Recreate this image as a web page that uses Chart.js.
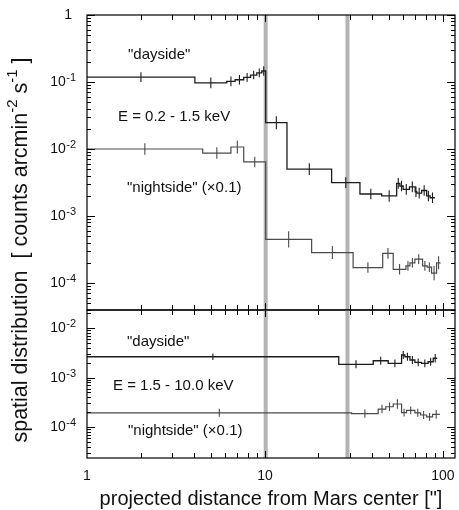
<!DOCTYPE html>
<html>
<head>
<meta charset="utf-8">
<script src="https://cdn.jsdelivr.net/npm/chart.js@4.4.1/dist/chart.umd.min.js"></script>
<style>
    html, body { margin: 0; padding: 0; background: #fff; }
    #wrap { position: relative; width: 459px; height: 510px; }
    #wrap canvas { position: absolute; left: 0; top: 0; }
</style>
</head>
<body>
<div id="wrap">
    <canvas id="softChart" width="459" height="510"></canvas>
    <canvas id="hardChart" width="459" height="510"></canvas>
</div>
<script>
// Mars X-ray spatial distribution - two energy bands, dayside / nightside

// Bin edges ["] and values [counts arcmin^-2 s^-1]
// E = 0.2 - 1.5 keV
const softDayEdges = [1, 4.04, 6.1, 6.8, 7.6, 8.3, 9.0, 9.6, 10.1, 13.3, 23.7, 34.2, 45.3,
    55.0, 57.3, 59.8, 64.9, 69.9, 71.3, 76.0, 81.1, 84.8, 90.2];
const softDayValues = [0.118, 0.097, 0.102, 0.108, 0.117, 0.127, 0.137, 0.146, 0.0247, 0.0050,
    0.00315, 0.00213, 0.00199, 0.00307, 0.0028, 0.0025, 0.00272, 0.0023, 0.00219, 0.0024,
    0.00199, 0.00187];
const softDayErrors = [0.18, 0.2, 0.18, 0.18, 0.16, 0.16, 0.16, 0.18, 0.25, 0.22, 0.2, 0.2,
    0.22, 0.2, 0.2, 0.2, 0.2, 0.2, 0.2, 0.2, 0.2, 0.2];

const softNightEdges = [1, 4.47, 6.44, 7.6, 10.1, 18.3, 31.3, 45.9, 52.6, 62.0, 65.3, 69.6,
    76.9, 81.6, 86.4, 92.2, 97.1];
const softNightValues = [0.0100, 0.0087, 0.0107, 0.0064, 4.47e-4, 2.84e-4, 1.70e-4, 2.77e-4,
    1.60e-4, 1.8e-4, 2.0e-4, 2.27e-4, 1.8e-4, 1.72e-4, 1.40e-4, 2.0e-4];
const softNightErrors = [0.22, 0.22, 0.25, 0.2, 0.32, 0.25, 0.2, 0.2, 0.2, 0.18, 0.18, 0.18,
    0.18, 0.18, 0.28, 0.25];

// E = 1.5 - 10.0 keV
const hardDayEdges = [1, 26.0, 40.6, 49.3, 58.6, 61.2, 65.3, 69.6, 75.9, 82.6, 88.3, 92.9];
const hardDayValues = [2.63e-3, 1.85e-3, 2.18e-3, 1.93e-3, 2.85e-3, 2.63e-3, 2.26e-3, 2.03e-3,
    1.93e-3, 2.08e-3, 2.45e-3];
const hardDayErrors = [0.16, 0.2, 0.2, 0.2, 0.2, 0.2, 0.2, 0.2, 0.2, 0.2, 0.22];

const hardNightEdges = [1, 30.7, 43.3, 47.8, 52.6, 58.6, 62.5, 69.6, 75.0, 81.0, 87.5, 96.2];
const hardNightValues = [1.94e-4, 1.87e-4, 2.31e-4, 2.57e-4, 2.92e-4, 1.95e-4, 2.17e-4,
    1.94e-4, 1.75e-4, 1.61e-4, 1.8e-4];
const hardNightErrors = [0.2, 0.22, 0.22, 0.22, 0.25, 0.2, 0.2, 0.2, 0.2, 0.2, 0.22];

// Gray marker lines ["]
const boundaryLines = [10.1, 29.1];

// Axis limits
const xRange = [1, 117];
const softRange = [3.95e-5, 1];
const hardRange = [2.37e-5, 0.0231];
const xTickValues = [1, 10, 100];
const xTickLabels = ['1', '10', '100'];

const FONT = '"Liberation Sans", Arial, Helvetica, sans-serif';
const dayColor = '#1c1c1c';
const nightColor = '#4a4a4a';

// Turn bins into a stepped outline
function stepPoints(edges, values) {
    const pts = [];
    values.forEach((v, i) => {
        pts.push({ x: edges[i], y: v });
        pts.push({ x: edges[i + 1], y: v });
    });
    return pts;
}

// Vertical error bar at each bin centre (broken with nulls)
function errorPoints(edges, values, errors) {
    const pts = [];
    values.forEach((v, i) => {
        const xc = Math.sqrt(edges[i] * edges[i + 1]);
        pts.push({ x: xc, y: v / (1 + errors[i]) });
        pts.push({ x: xc, y: v * (1 + errors[i]) });
        pts.push({ x: xc, y: null });
    });
    return pts;
}

function lineSet(data, color, width) {
    return {
        data: data,
        borderColor: color,
        borderWidth: width,
        pointRadius: 0,
        fill: false,
        tension: 0,
        spanGaps: false
    };
}

// Draws "10" with a raised exponent, right aligned at xRight
function drawPower(ctx, exp, xRight, y) {
    ctx.font = '11px ' + FONT;
    const ew = ctx.measureText(exp).width;
    ctx.textAlign = 'left';
    ctx.textBaseline = 'middle';
    ctx.fillText(exp, xRight - ew, y - 5);
    ctx.font = '14px ' + FONT;
    ctx.textAlign = 'right';
    ctx.fillText('10', xRight - ew - 0.5, y);
}

function seg(ctx, x1, y1, x2, y2) {
    ctx.beginPath();
    ctx.moveTo(x1, y1);
    ctx.lineTo(x2, y2);
    ctx.stroke();
}

const panelAxes = {
    id: 'panelAxes',
    beforeDatasetsDraw(chart) {
        const { ctx, chartArea, scales } = chart;
        ctx.save();
        ctx.strokeStyle = '#b3b3b3';
        ctx.lineWidth = 4;
        boundaryLines.forEach(v => {
            const x = scales.x.getPixelForValue(v);
            seg(ctx, x, chartArea.top, x, chartArea.bottom);
        });
        ctx.restore();
    },
    afterDraw(chart, args, opts) {
        const { ctx, chartArea, scales } = chart;
        const { left, right, top, bottom } = chartArea;
        ctx.save();
        ctx.strokeStyle = '#000';
        ctx.fillStyle = '#111';
        ctx.lineWidth = 1.2;
        ctx.strokeRect(left, top, right - left, bottom - top);

        // x ticks on top and bottom edges
        ctx.lineWidth = 1;
        for (let k = 0; k <= 2; k++) {
            for (let m = 1; m <= 9; m++) {
                const v = m * Math.pow(10, k);
                if (v <= xRange[0] || v > xRange[1]) continue;
                const x = Math.round(scales.x.getPixelForValue(v)) + 0.5;
                const len = m === 1 ? 7 : 5;
                seg(ctx, x, bottom, x, bottom - len);
                seg(ctx, x, top, x, top + len);
            }
        }

        // y ticks on left and right edges
        const ys = scales.y;
        const lo = Math.floor(Math.log10(ys.min));
        const hi = Math.ceil(Math.log10(ys.max));
        for (let k = lo; k <= hi; k++) {
            for (let m = 1; m <= 9; m++) {
                const v = m * Math.pow(10, k);
                if (v < ys.min * 0.999 || v > ys.max * 1.001) continue;
                const y = Math.round(ys.getPixelForValue(v)) + 0.5;
                const len = m === 1 ? 8 : 4;
                seg(ctx, left, y, left + len, y);
                seg(ctx, right, y, right - len, y);
                if (m === 1) {
                    if (k === 0) {
                        ctx.font = '14px ' + FONT;
                        ctx.textAlign = 'right';
                        ctx.textBaseline = 'middle';
                        ctx.fillText('1', 72, y);
                    } else {
                        drawPower(ctx, String(k), 76, y);
                    }
                }
            }
        }

        // in-panel labels
        ctx.font = '15px ' + FONT;
        ctx.textAlign = 'left';
        ctx.textBaseline = 'middle';
        (opts.notes || []).forEach(n => ctx.fillText(n.text, n.x, n.y));

        if (opts.bottomAxis) {
            ctx.font = '14px ' + FONT;
            ctx.textAlign = 'center';
            xTickValues.forEach((v, i) => {
                ctx.fillText(xTickLabels[i], scales.x.getPixelForValue(v), 476);
            });
            ctx.font = '20px ' + FONT;
            ctx.fillText('projected distance from Mars center ["]', 271, 499);

            // y title spanning both panels
            ctx.translate(21, 250);
            ctx.rotate(-Math.PI / 2);
            const parts = [
                ['spatial distribution  [ counts arcmin', 21.5, 0],
                ['-2', 15, -8],
                [' s', 21.5, 0],
                ['-1', 15, -8],
                [' ]', 21.5, 0]
            ];
            let total = 0;
            parts.forEach(p => { ctx.font = p[1] + 'px ' + FONT; total += ctx.measureText(p[0]).width; });
            let cx = -total / 2;
            ctx.textAlign = 'left';
            parts.forEach(p => {
                ctx.font = p[1] + 'px ' + FONT;
                ctx.fillText(p[0], cx, p[2]);
                cx += ctx.measureText(p[0]).width;
            });
        }
        ctx.restore();
    }
};

function makePanel(canvasId, yRange, padTop, padBottom, day, night, panelOpts) {
    const ctx = document.getElementById(canvasId).getContext('2d');
    return new Chart(ctx, {
        type: 'line',
        data: {
            datasets: [
                lineSet(stepPoints(day.edges, day.values), dayColor, 1.3),
                lineSet(errorPoints(day.edges, day.values, day.errors), dayColor, 1.1),
                lineSet(stepPoints(night.edges, night.values), nightColor, 1.2),
                lineSet(errorPoints(night.edges, night.values, night.errors), nightColor, 1.1)
            ]
        },
        options: {
            responsive: false,
            animation: false,
            devicePixelRatio: 1,
            layout: { padding: { left: 87, right: 4, top: padTop, bottom: padBottom } },
            scales: {
                x: { type: 'logarithmic', min: xRange[0], max: xRange[1], display: false },
                y: { type: 'logarithmic', min: yRange[0], max: yRange[1], display: false }
            },
            plugins: {
                legend: { display: false },
                tooltip: { enabled: false },
                panelAxes: panelOpts
            }
        },
        plugins: [panelAxes]
    });
}

makePanel('softChart', softRange, 15, 200,
    { edges: softDayEdges, values: softDayValues, errors: softDayErrors },
    { edges: softNightEdges, values: softNightValues, errors: softNightErrors },
    {
        bottomAxis: false,
        notes: [
            { text: '"dayside"', x: 128, y: 55 },
            { text: 'E = 0.2 - 1.5 keV', x: 118, y: 117 },
            { text: '"nightside" (×0.1)', x: 127, y: 188 }
        ]
    });

makePanel('hardChart', hardRange, 310, 52,
    { edges: hardDayEdges, values: hardDayValues, errors: hardDayErrors },
    { edges: hardNightEdges, values: hardNightValues, errors: hardNightErrors },
    {
        bottomAxis: true,
        notes: [
            { text: '"dayside"', x: 127, y: 342 },
            { text: 'E = 1.5 - 10.0 keV', x: 113, y: 386 },
            { text: '"nightside" (×0.1)', x: 128, y: 431 }
        ]
    });
</script>
</body>
</html>
